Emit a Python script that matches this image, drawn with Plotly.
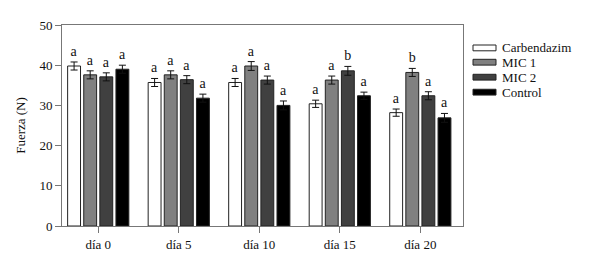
import plotly.graph_objects as go

categories = ["día 0", "día 5", "día 10", "día 15", "día 20"]
series_names = ["Carbendazim", "MIC 1", "MIC 2", "Control"]
carbendazim = [39.8, 35.7, 35.7, 30.4, 28.2]
mic1 = [37.6, 37.6, 39.8, 36.3, 38.2]
mic2 = [37.1, 36.4, 36.3, 38.6, 32.4]
control = [39.0, 31.8, 30.0, 32.4, 26.9]
err_carbendazim = [1.0, 1.0, 1.0, 0.9, 0.9]
err_mic1 = [1.0, 1.0, 1.1, 1.0, 1.0]
err_mic2 = [1.0, 1.0, 1.0, 1.1, 1.0]
err_control = [1.0, 1.0, 1.1, 0.9, 1.1]
letters_carbendazim = ["a", "a", "a", "a", "a"]
letters_mic1 = ["a", "a", "a", "a", "b"]
letters_mic2 = ["a", "a", "a", "b", "a"]
letters_control = ["a", "a", "a", "a", "a"]
y_ticks = [0, 10, 20, 30, 40, 50]

values = [carbendazim, mic1, mic2, control]
errors = [err_carbendazim, err_mic1, err_mic2, err_control]
letters = [letters_carbendazim, letters_mic1, letters_mic2, letters_control]
colors = ["#ffffff", "#808080", "#404040", "#000000"]

FONT = "Liberation Serif, Times New Roman, serif"
bar_w = 0.16
slot = 0.2

# page has an 8px body margin; work in page pixel coordinates
PAGE_OFF = 8
W, H = 589 - PAGE_OFF, 263 - PAGE_OFF
L, R, T, B = 62, 463, 18, 226  # plot area in page pixels

fig = go.Figure()
for i, name in enumerate(series_names):
    off = -0.4 + slot * i + (slot - bar_w) / 2
    fig.add_trace(go.Bar(
        x=categories, y=values[i], name=name,
        width=bar_w, offset=off,
        marker=dict(color=colors[i], line=dict(color="#222222", width=1)),
        error_y=dict(type="data", array=errors[i], visible=True,
                     color="#111111", thickness=1, width=3.5),
        showlegend=False,
    ))
    tops = [v + e for v, e in zip(values[i], errors[i])]
    fig.add_trace(go.Bar(
        x=categories, y=tops, width=bar_w, offset=off,
        marker=dict(color="rgba(0,0,0,0)", line=dict(width=0)),
        text=letters[i], textposition="outside", cliponaxis=False,
        textfont=dict(family=FONT, size=14, color="#111111"),
        showlegend=False, hoverinfo="skip",
    ))


def px(x):
    return (x - L) / (R - L)


def py(y):
    return (B - y) / (B - T)


legend_y = [41.7, 56.5, 72.0, 87.5]
for i, name in enumerate(series_names):
    yc = legend_y[i]
    fig.add_shape(type="rect", xref="paper", yref="paper",
                  x0=px(473), x1=px(496), y0=py(yc + 3), y1=py(yc - 3),
                  fillcolor=colors[i], line=dict(color="#222222", width=1))
    fig.add_annotation(xref="paper", yref="paper", x=px(500), y=py(yc),
                       text=name, showarrow=False, xanchor="left", yanchor="middle",
                       font=dict(family=FONT, size=13, color="#111111"))

fig.update_layout(
    width=W, height=H,
    margin=dict(l=L - PAGE_OFF, r=589 - R, t=T - PAGE_OFF, b=263 - B, pad=0),
    paper_bgcolor="white", plot_bgcolor="white",
    barmode="overlay",
    font=dict(family=FONT, size=12, color="#111111"),
    xaxis=dict(type="category", range=[-0.45, 4.53], showline=True, mirror=True,
               linecolor="#777777", linewidth=1, ticks="outside", ticklen=6,
               tickcolor="#777777", showgrid=False,
               tickfont=dict(family=FONT, size=13, color="#111111")),
    yaxis=dict(range=[0, 50], tickvals=y_ticks, showline=True, mirror=True,
               linecolor="#777777", linewidth=1, ticks="outside", ticklen=6,
               tickcolor="#777777", showgrid=False, zeroline=False,
               tickfont=dict(family=FONT, size=13, color="#111111"),
               title=dict(text="Fuerza (N)", standoff=10,
                          font=dict(family=FONT, size=13, color="#111111"))),
)

fig.write_html("out.html")
